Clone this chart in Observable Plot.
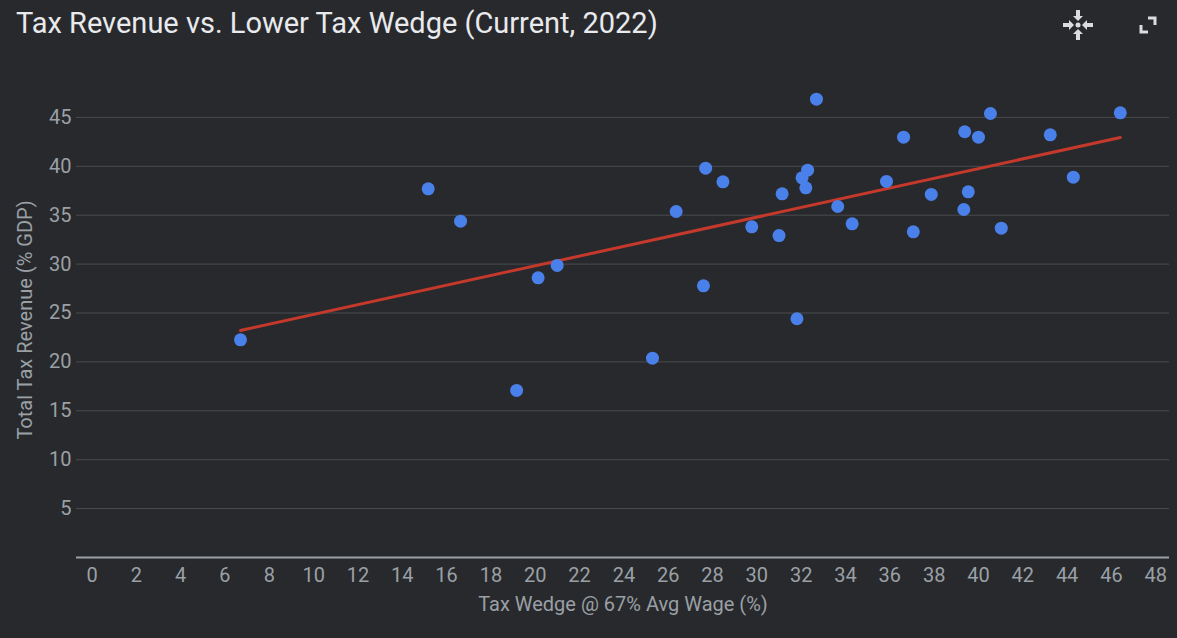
<!DOCTYPE html>
<html>
<head>
<meta charset="utf-8">
<script src="https://cdn.jsdelivr.net/npm/d3@7"></script>
<script src="https://cdn.jsdelivr.net/npm/@observablehq/plot@0.6"></script>
<style>
  html, body { margin: 0; padding: 0; background: #28292c; }
  body { width: 1177px; height: 638px; position: relative; overflow: hidden; font-family: Roboto, "Noto Sans", sans-serif; }
  #title { height: 50px; box-sizing: border-box; padding: 5px 0 0 16px; color: #e8eaed; font-size: 29px; line-height: 36px; font-family: Roboto, sans-serif; white-space: nowrap; }
  #icons { position: absolute; left: 0; top: 0; }
</style>
</head>
<body>
<div id="title">Tax Revenue vs. Lower Tax Wedge (Current, 2022)</div>
<svg id="icons" width="1177" height="50">
  <g fill="#dadce0" transform="translate(1078,25)">
    <circle r="2.5"></circle>
    <g id="arr">
      <rect x="-2" y="-15" width="4" height="7"></rect>
      <path d="M-5,-9 L5,-9 L0,-4 Z"></path>
    </g>
    <use href="#arr" transform="rotate(90)"></use>
    <use href="#arr" transform="rotate(180)"></use>
    <use href="#arr" transform="rotate(270)"></use>
  </g>
  <g fill="none" stroke="#dadce0" stroke-width="3" transform="translate(1148,25)">
    <path d="M0,-7 L7,-7 L7,0"></path>
    <path d="M-7,0 L-7,7 L0,7"></path>
  </g>
</svg>
<div id="chart"></div>
<script>
const taxWedge = [6.7, 15.17, 16.63, 20.13, 20.99, 19.16, 25.29, 26.36, 27.69, 28.47, 29.77, 31.0, 31.14, 32.29, 32.04, 32.21, 33.65, 34.3, 27.59, 31.81, 32.69, 35.85, 36.62, 37.06, 37.87, 39.38, 40.0, 40.54, 39.54, 39.34, 41.03, 43.24, 44.28, 46.4];
const taxRevenue = [22.26, 37.7, 34.39, 28.6, 29.86, 17.08, 20.38, 35.38, 39.81, 38.41, 33.81, 32.92, 37.19, 39.6, 38.82, 37.8, 35.89, 34.12, 27.78, 24.41, 46.86, 38.45, 42.98, 33.3, 37.12, 43.53, 42.98, 45.4, 37.39, 35.58, 33.67, 43.22, 38.89, 45.47];
const xTicks = d3.range(0, 50, 2);
const yTicks = [5, 10, 15, 20, 25, 30, 35, 40, 45];

const data = taxWedge.map((x, i) => ({x, y: taxRevenue[i]}));

const chart = Plot.plot({
  width: 1177,
  height: 588,
  marginLeft: 76,
  marginRight: 8,
  marginTop: 18,
  marginBottom: 81,
  style: {background: "transparent", fontFamily: "Roboto, sans-serif", color: "#9aa0a6"},
  x: {domain: [-0.7, 48.62], ticks: xTicks, label: null},
  y: {domain: [0, 50], ticks: yTicks, label: null},
  marks: [
    Plot.gridY(yTicks, {stroke: "#4a4c50", strokeOpacity: 1, strokeWidth: 1}),
    Plot.ruleY([0], {stroke: "#9aa0a6", strokeWidth: 2}),
    Plot.axisX(xTicks, {tickSize: 0, tickPadding: 10, fontSize: 20, fill: "#9aa0a6", label: null}),
    Plot.axisY(yTicks, {tickSize: 0, tickPadding: 5, fontSize: 20, fill: "#9aa0a6", label: null}),
    Plot.linearRegressionY(data, {x: "x", y: "y", stroke: "#c5392c", strokeWidth: 3, ci: 0}),
    Plot.dot(data, {x: "x", y: "y", r: 6.5, fill: "#4a80ea", stroke: "none"}),
    Plot.text(["Tax Wedge @ 67% Avg Wage (%)"], {frameAnchor: "bottom", dy: 53, fontSize: 20, fill: "#9aa0a6"}),
    Plot.text(["Total Tax Revenue (% GDP)"], {frameAnchor: "left", textAnchor: "middle", dx: -51, dy: 7, rotate: -90, fontSize: 20, fill: "#9aa0a6"})
  ]
});
document.getElementById("chart").appendChild(chart);
</script>
</body>
</html>
